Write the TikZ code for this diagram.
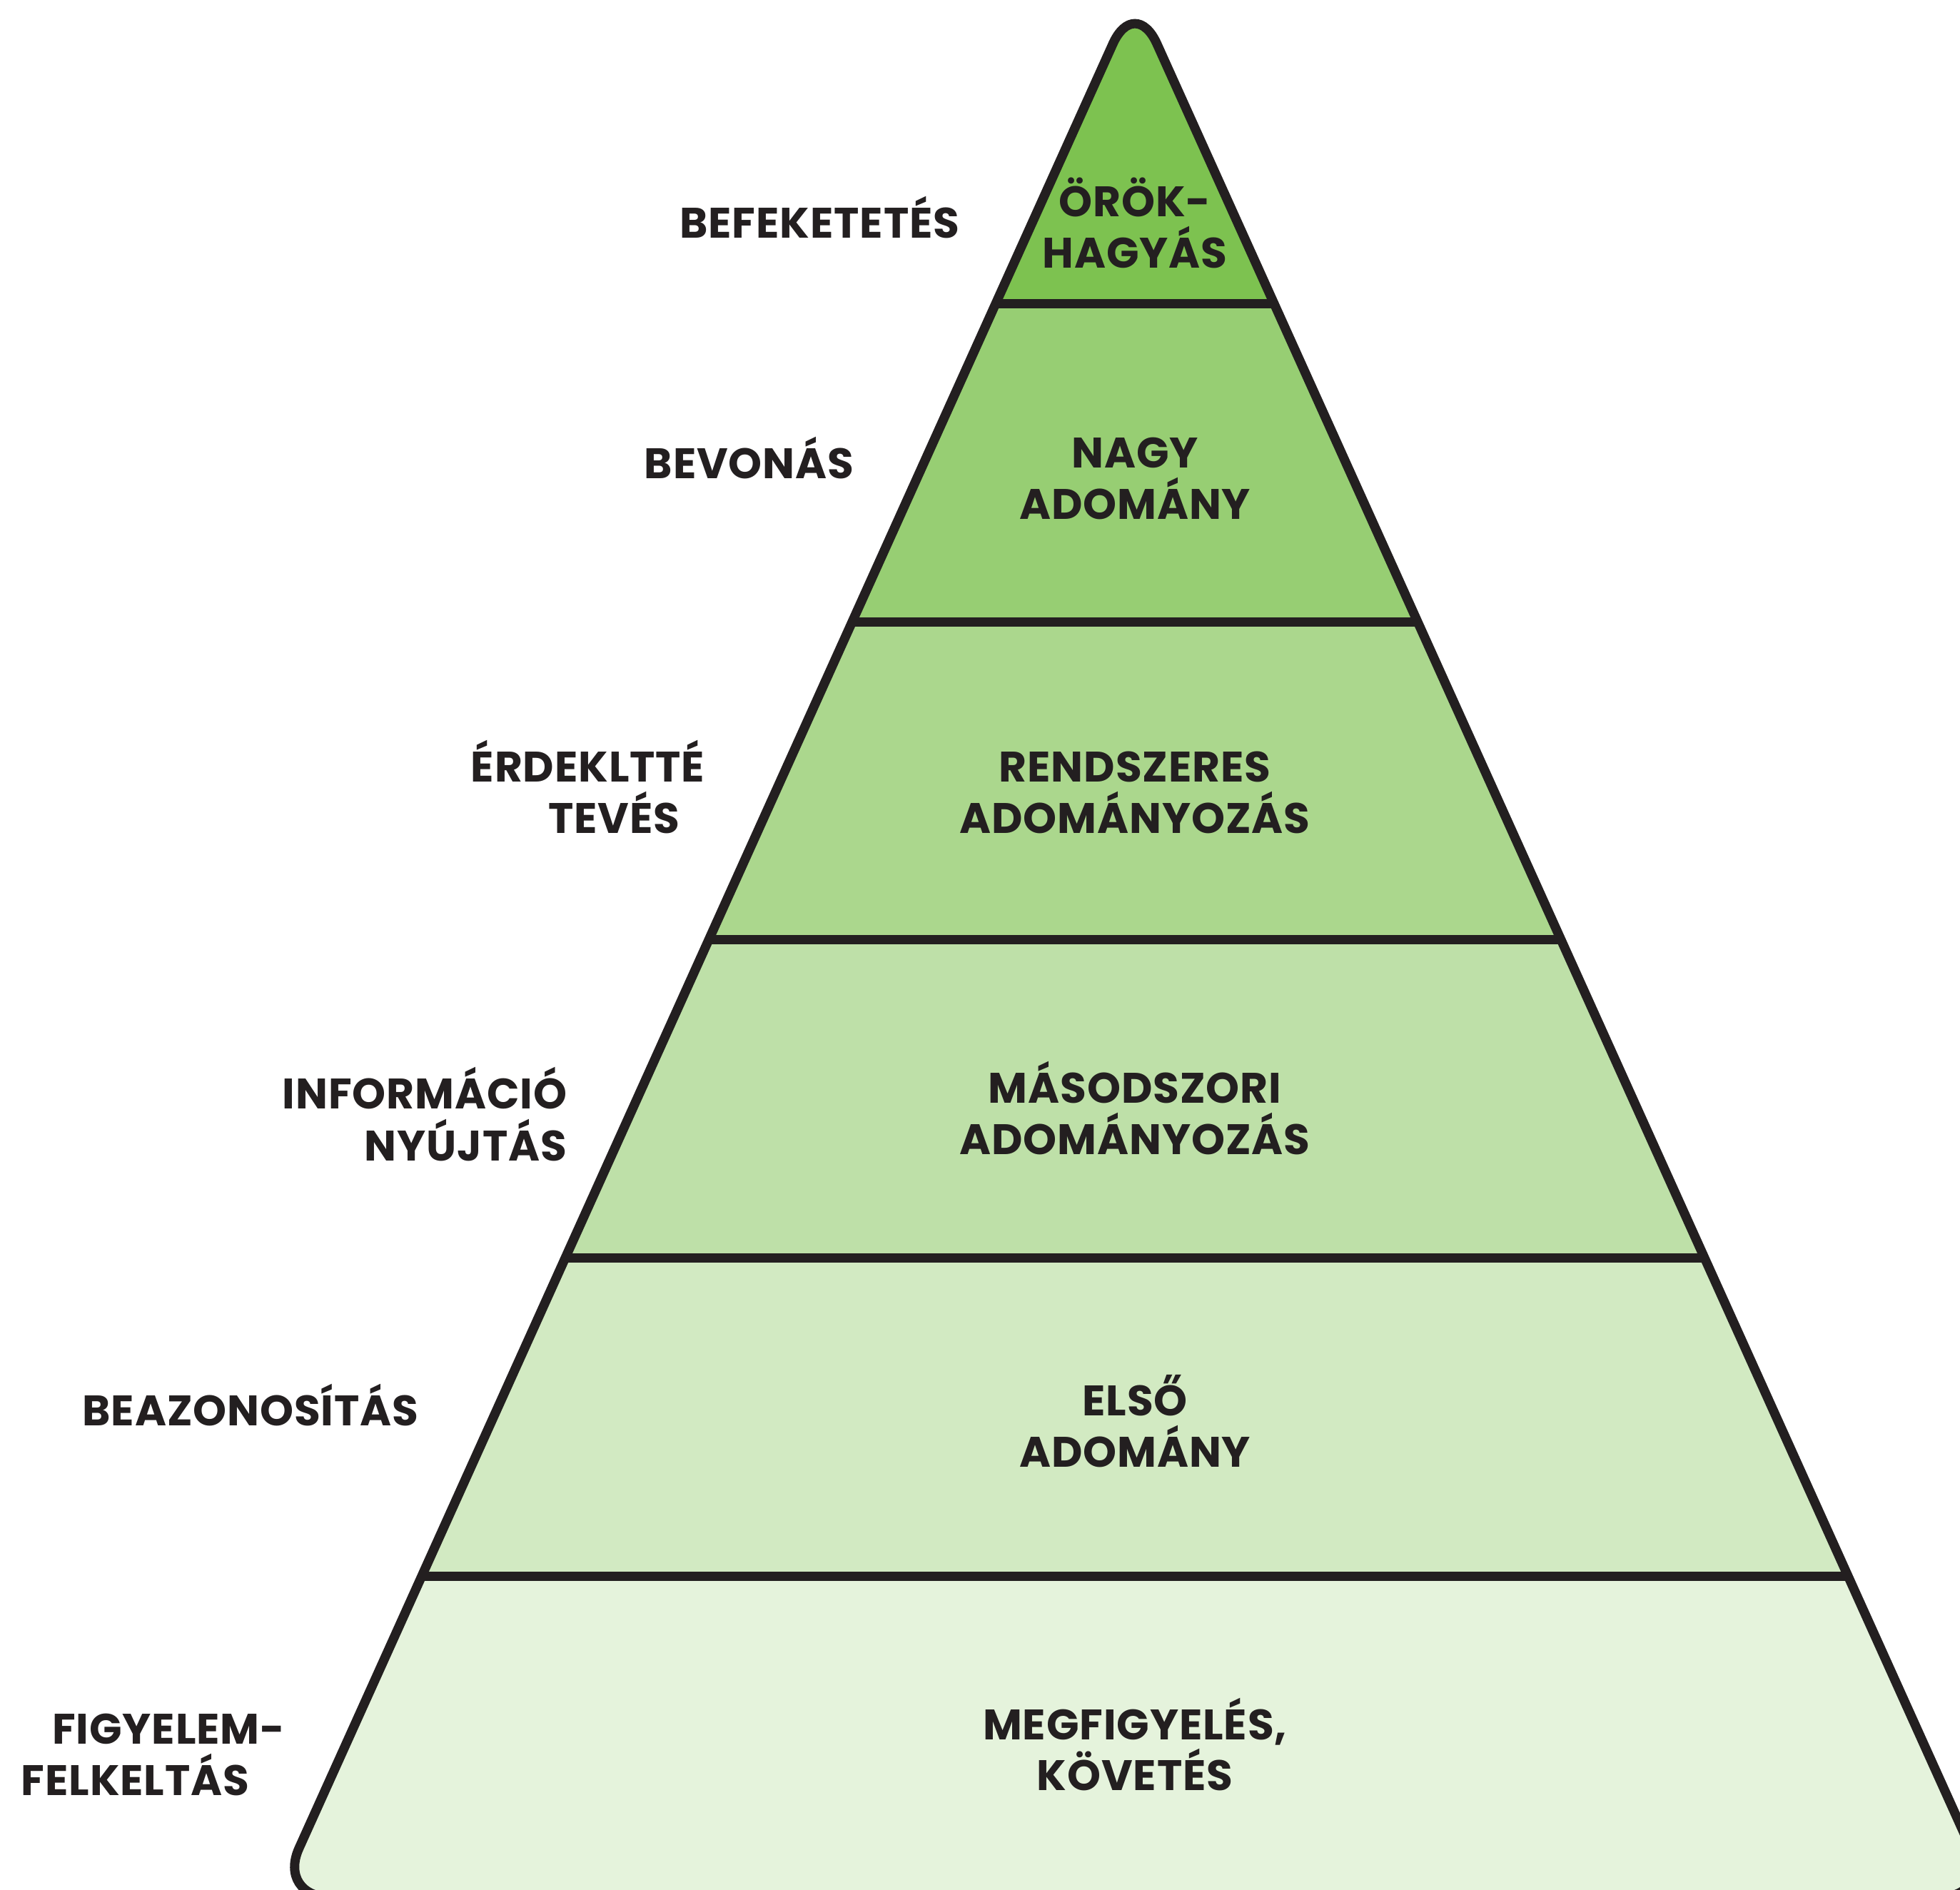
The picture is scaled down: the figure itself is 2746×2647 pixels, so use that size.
\documentclass[tikz,border=0pt]{standalone}
\usepackage{fontspec}
\setmainfont{Poppins}[LetterSpace=1.5]
\definecolor{leaf}{RGB}{125,194,80}
\definecolor{ink}{RGB}{35,31,32}

\begin{document}
\begin{tikzpicture}[x=0.01cm, y=-0.01cm,
    lvl/.style={font=\fontsize{17}{20}\selectfont\bfseries, text=ink, inner sep=0pt, anchor=base},
    side/.style={lvl, anchor=base east}]
  \useasboundingbox (0,0) rectangle (2746,2647);
  \clip (0,0) rectangle (2746,2647);

  % bands
  \begin{scope}
    \clip[rounded corners=0.75cm] (1590,2658) -- (388,2658) -- (1590,-7) -- (2792,2658) -- cycle;
    \fill[leaf!20!white] (300,-50) rectangle (2800,2700);
    \foreach \i/\c in {0/100, 1/80, 2/65, 3/50, 4/35}
      \fill[leaf!\c!white] (300,{425.6+445.6*(\i-1)}) rectangle (2800,{425.6+445.6*\i});
    \foreach \i in {1,...,5}
      \draw[ink, line width=0.13cm] (300,{425.6+445.6*(\i-1)}) -- (2800,{425.6+445.6*(\i-1)});
  \end{scope}
  \draw[ink, line width=0.13cm, rounded corners=0.75cm, line join=round]
    (1590,2658) -- (388,2658) -- (1590,-7) -- (2792,2658) -- cycle;

  % inside the pyramid
  \foreach \n/\y/\t in {orok/303/ÖRÖK-, hagyas/375/HAGYÁS,
      nagy/655/NAGY, adomany/727/ADOMÁNY,
      rendsz/1095/RENDSZERES, radom/1167/ADOMÁNYOZÁS,
      masod/1545/MÁSODSZORI, madom/1617/ADOMÁNYOZÁS,
      elso/1983/ELSŐ, eadom/2055/ADOMÁNY,
      megf/2437/{MEGFIGYELÉS,}, kovet/2508/KÖVETÉS}
    \node[lvl] (\n) at (1590,\y) {\t};

  % left side
  \foreach \n/\x/\y/\t in {befek/1345/333/BEFEKETETÉS,
      bevon/1197/670/BEVONÁS,
      erdek/988/1095/ÉRDEKLTTÉ, teves/953/1167/TEVÉS,
      infor/795/1553/INFORMÁCIÓ, nyujt/795/1626/NYÚJTÁS,
      beaz/587/1997/BEAZONOSÍTÁS,
      figy/400/2443/FIGYELEM-, felk/350/2515/FELKELTÁS}
    \node[side] (\n) at (\x,\y) {\t};
\end{tikzpicture}
\end{document}
